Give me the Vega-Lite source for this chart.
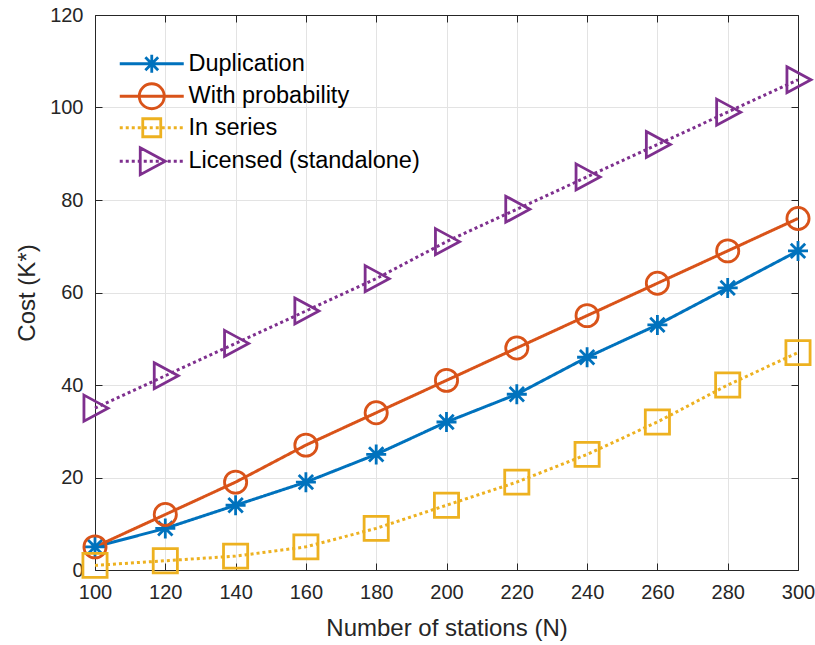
{
  "$schema": "https://vega.github.io/schema/vega-lite/v6.json",
  "width": 703,
  "height": 555,
  "autosize": "none",
  "padding": {"left": 95, "top": 15, "right": 17, "bottom": 75},
  "background": "white",
  "config": {
    "view": {"stroke": null},
    "font": "Liberation Sans",
    "axis": {
      "labelFont": "Liberation Sans",
      "titleFont": "Liberation Sans",
      "labelFontSize": 20,
      "titleFontSize": 24,
      "labelColor": "#262626",
      "titleColor": "#262626",
      "titleFontWeight": "normal",
      "domainColor": "#262626",
      "domainWidth": 1,
      "tickColor": "#262626",
      "tickSize": -7,
      "gridColor": "#e3e3e3",
      "gridWidth": 1
    },
    "legend": {
      "orient": "none",
      "legendX": 45,
      "legendY": 37,
      "padding": 0,
      "symbolSize": 400,
      "symbolStrokeWidth": 2.8,
      "symbolFillColor": "transparent",
      "symbolOpacity": 1,
      "labelFont": "Liberation Sans",
      "labelFontSize": 23.5,
      "labelColor": "#000000",
      "labelOffset": 25,
      "rowPadding": -1.5,
      "labelLimit": 400
    }
  },
  "data": {
    "values": [
      {"N": 100, "series": "Duplication", "cost": 5},
      {"N": 120, "series": "Duplication", "cost": 9},
      {"N": 140, "series": "Duplication", "cost": 14},
      {"N": 160, "series": "Duplication", "cost": 19},
      {"N": 180, "series": "Duplication", "cost": 25},
      {"N": 200, "series": "Duplication", "cost": 32},
      {"N": 220, "series": "Duplication", "cost": 38},
      {"N": 240, "series": "Duplication", "cost": 46},
      {"N": 260, "series": "Duplication", "cost": 53},
      {"N": 280, "series": "Duplication", "cost": 61},
      {"N": 300, "series": "Duplication", "cost": 69},
      {"N": 100, "series": "With probability", "cost": 5},
      {"N": 120, "series": "With probability", "cost": 12},
      {"N": 140, "series": "With probability", "cost": 19},
      {"N": 160, "series": "With probability", "cost": 27},
      {"N": 180, "series": "With probability", "cost": 34},
      {"N": 200, "series": "With probability", "cost": 41},
      {"N": 220, "series": "With probability", "cost": 48},
      {"N": 240, "series": "With probability", "cost": 55},
      {"N": 260, "series": "With probability", "cost": 62},
      {"N": 280, "series": "With probability", "cost": 69},
      {"N": 300, "series": "With probability", "cost": 76},
      {"N": 100, "series": "In series", "cost": 1},
      {"N": 120, "series": "In series", "cost": 2},
      {"N": 140, "series": "In series", "cost": 3},
      {"N": 160, "series": "In series", "cost": 5},
      {"N": 180, "series": "In series", "cost": 9},
      {"N": 200, "series": "In series", "cost": 14},
      {"N": 220, "series": "In series", "cost": 19},
      {"N": 240, "series": "In series", "cost": 25},
      {"N": 260, "series": "In series", "cost": 32},
      {"N": 280, "series": "In series", "cost": 40},
      {"N": 300, "series": "In series", "cost": 47},
      {"N": 100, "series": "Licensed (standalone)", "cost": 35},
      {"N": 120, "series": "Licensed (standalone)", "cost": 42},
      {"N": 140, "series": "Licensed (standalone)", "cost": 49},
      {"N": 160, "series": "Licensed (standalone)", "cost": 56},
      {"N": 180, "series": "Licensed (standalone)", "cost": 63},
      {"N": 200, "series": "Licensed (standalone)", "cost": 71},
      {"N": 220, "series": "Licensed (standalone)", "cost": 78},
      {"N": 240, "series": "Licensed (standalone)", "cost": 85},
      {"N": 260, "series": "Licensed (standalone)", "cost": 92},
      {"N": 280, "series": "Licensed (standalone)", "cost": 99},
      {"N": 300, "series": "Licensed (standalone)", "cost": 106}
    ]
  },
  "resolve": {"axis": {"x": "independent", "y": "independent"}, "scale": {"shape": "independent", "size": "independent", "color": "independent"}},
  "layer": [
    {
      "mark": {"type": "line", "strokeWidth": 3, "strokeCap": "butt", "clip": false},
      "encoding": {
        "x": {"field": "N", "type": "quantitative", "scale": {"domain": [100, 300], "nice": false, "zero": false},
          "axis": {"orient": "bottom", "values": [100,120,140,160,180,200,220,240,260,280,300], "grid": true, "labelPadding": 19, "title": "Number of stations (N)", "titlePadding": 14, "labelFlush": false}},
        "y": {"field": "cost", "type": "quantitative", "scale": {"domain": [0, 120], "nice": false},
          "axis": {"orient": "left", "values": [0,20,40,60,80,100,120], "grid": true, "labelPadding": 19, "title": "Cost (K*)", "titlePadding": 10, "labelFlush": false}},
        "color": {"field": "series", "type": "nominal",
          "scale": {"domain": ["Duplication", "With probability", "In series", "Licensed (standalone)"], "range": ["#0072BD", "#D95319", "#EDB120", "#7E2F8E"]},
          "legend": null},
        "strokeDash": {"field": "series", "type": "nominal",
          "scale": {"domain": ["Duplication", "With probability", "In series", "Licensed (standalone)"], "range": [[1, 0], [1, 0], [3, 3], [3, 3]]},
          "legend": null}
      }
    },
    {
      "mark": {"type": "point", "filled": false, "strokeWidth": 2.8, "opacity": 1, "clip": false},
      "encoding": {
        "x": {"field": "N", "type": "quantitative", "axis": null},
        "y": {"field": "cost", "type": "quantitative", "axis": null},
        "color": {"field": "series", "type": "nominal",
          "scale": {"domain": ["Duplication", "With probability", "In series", "Licensed (standalone)"], "range": ["#0072BD", "#D95319", "#EDB120", "#7E2F8E"]},
          "legend": null},
        "shape": {"field": "series", "type": "nominal",
          "scale": {"domain": ["Duplication", "With probability", "In series", "Licensed (standalone)"],
            "range": ["M0,-1L0,1M-1,0L1,0M-0.72,-0.72L0.72,0.72M-0.72,0.72L0.72,-0.72", "circle", "square", "M-0.85,-1L1,0L-0.85,1Z"]},
          "legend": null},
        "size": {"field": "series", "type": "nominal",
          "scale": {"domain": ["Duplication", "With probability", "In series", "Licensed (standalone)"], "range": [400, 676, 306, 625]},
          "legend": null}
      }
    },
    {
      "transform": [{"filter": "datum.N < 0"}],
      "mark": {"type": "point", "filled": false, "strokeWidth": 2.8},
      "encoding": {
        "x": {"field": "N", "type": "quantitative",
          "axis": {"orient": "top", "values": [100,120,140,160,180,200,220,240,260,280,300], "labels": false, "grid": false, "title": null}},
        "y": {"field": "cost", "type": "quantitative",
          "axis": {"orient": "right", "values": [0,20,40,60,80,100,120], "labels": false, "grid": false, "title": null}},
        "color": {"field": "series", "type": "nominal",
          "scale": {"domain": ["Duplication", "With probability", "In series", "Licensed (standalone)"], "range": ["#0072BD", "#D95319", "#EDB120", "#7E2F8E"]},
          "legend": {"title": null}},
        "shape": {"field": "series", "type": "nominal",
          "scale": {"domain": ["Duplication", "With probability", "In series", "Licensed (standalone)"],
            "range": [
              "M-3.2,0L3.2,0M0,-0.9L0,0.9M-0.9,0L0.9,0M-0.64,-0.64L0.64,0.64M-0.64,0.64L0.64,-0.64",
              "M-3.2,0L3.2,0M-1.25,0A1.25,1.25,0,1,0,1.25,0A1.25,1.25,0,1,0,-1.25,0Z",
              "M-3.2,0L-2.9,0M-2.6,0L-2.3,0M-2,0L-1.7,0M-1.4,0L-1.1,0M-0.8,0L-0.5,0M-0.2,0L0.1,0M0.4,0L0.7,0M1,0L1.3,0M1.6,0L1.9,0M2.2,0L2.5,0M2.8,0L3.1,0M-0.9,-0.9L0.9,-0.9L0.9,0.9L-0.9,0.9Z",
              "M-3.2,0L-2.9,0M-2.6,0L-2.3,0M-2,0L-1.7,0M-1.4,0L-1.1,0M-0.8,0L-0.5,0M-0.2,0L0.1,0M0.4,0L0.7,0M1,0L1.3,0M1.6,0L1.9,0M2.2,0L2.5,0M2.8,0L3.1,0M-1.15,-1.35L1.35,0L-1.15,1.35Z"
            ]},
          "legend": {"title": null}
        }
      }
    }
  ]
}
